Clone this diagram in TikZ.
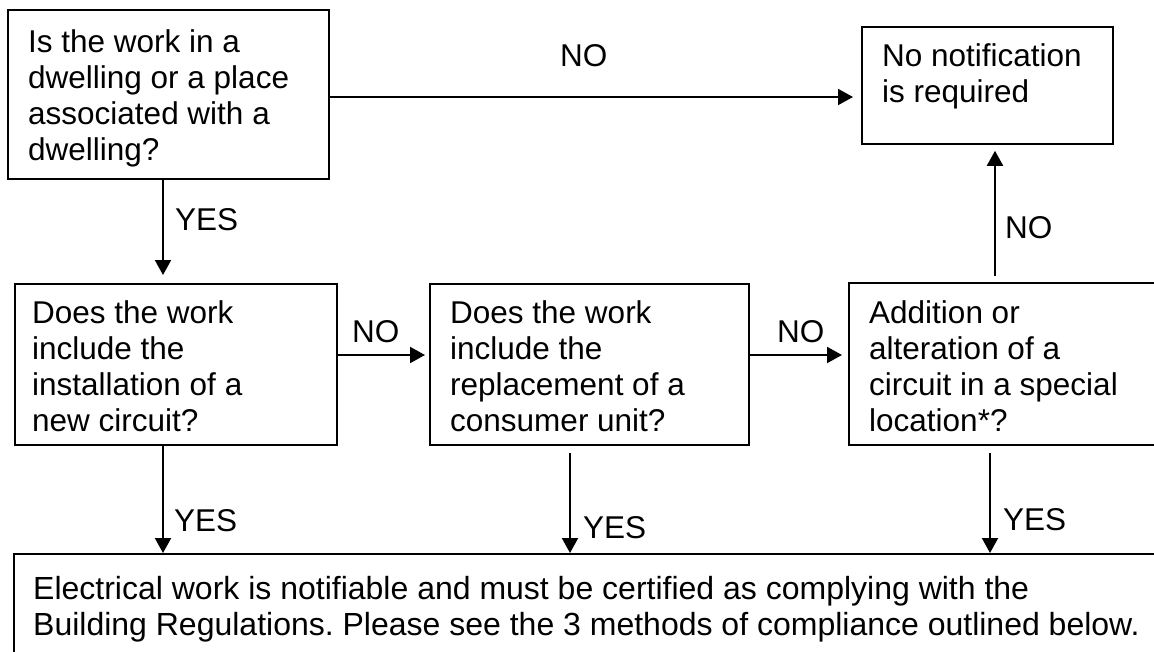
\documentclass[tikz,border=0pt]{standalone}
\usepackage{fontspec}
\setmainfont{Liberation Sans}
\usetikzlibrary{arrows.meta}
\frenchspacing
\newcommand{\tlines}[1]{\vtop{\baselineskip=36pt\halign{##\hfil\cr#1\crcr}}}
\begin{document}
\begin{tikzpicture}[x=1pt,y=-1pt,
  box/.style={draw=black, line width=1.8pt, rectangle, inner sep=0pt, anchor=north west},
  txt/.style={inner sep=0pt, anchor=base west, font=\fontsize{31.5}{36}\selectfont},
  bigtxt/.style={txt, font=\fontsize{32}{36}\selectfont},
  lbl/.style={inner sep=0pt, anchor=base west, font=\fontsize{31.5}{36}\selectfont},
  arr/.style={line width=2pt, -{Triangle[length=15pt,width=16pt]}}]
\useasboundingbox (0,0) rectangle (1154,651);
\clip (0,0) rectangle (1154,651);
\fill[white] (0,0) rectangle (1154,651);
% boxes
\node[box, minimum width=321pt, minimum height=169pt] (b1) at (7,9) {};
\node[box, minimum width=251pt, minimum height=117pt] (nn) at (861,26) {};
\node[box, minimum width=322pt, minimum height=161pt] (bA) at (14,283) {};
\node[box, minimum width=319pt, minimum height=161pt] (bB) at (429,283) {};
\node[box, minimum width=340pt, minimum height=162pt] (bC) at (848,282) {};
\node[box, minimum width=1160pt, minimum height=150pt] (bot) at (13,553) {};
% texts
\node[txt] (t1) at (28,52) {\tlines{Is the work in a\cr dwelling or a place\cr associated with a\cr dwelling?}};
\node[txt] (tn) at (882,66) {\tlines{No notification\cr is required}};
\node[txt] (tA) at (32,323) {\tlines{Does the work\cr include the\cr installation of a\cr new circuit?}};
\node[txt] (tB) at (450,323) {\tlines{Does the work\cr include the\cr replacement of a\cr consumer unit?}};
\node[txt] (tC) at (869,323) {\tlines{Addition or\cr alteration of a\cr circuit in a special\cr location*?}};
\node[bigtxt] (tb) at (33,599) {\tlines{Electrical work is notifiable and must be certified as complying with the\cr Building Regulations. Please see the 3 methods of compliance outlined below.}};
% x positions of vertical connectors
\coordinate (x1) at (163,0);
\coordinate (xA) at (163,0);
\coordinate (xB) at (570,0);
\coordinate (xC) at (990,0);
\coordinate (xU) at (995,0);
\coordinate (yT) at (0,97);
\coordinate (yM) at (0,355);
% connectors
\draw[arr, shorten >=8pt] (b1.east |- yT) -- (nn.west |- yT);
\draw[arr, shorten >=8pt] (x1 |- b1.south) -- (x1 |- bA.north);
\draw[arr, shorten >=4pt] (bA.east |- yM) -- (bB.west |- yM);
\draw[arr, shorten >=6pt] (bB.east |- yM) -- (bC.west |- yM);
\draw[arr, shorten <=6pt, shorten >=6pt] (xU |- bC.north) -- (xU |- nn.south);
\draw[arr] (xA |- bA.south) -- (xA |- bot.north);
\draw[arr, shorten <=7pt] (xB |- bB.south) -- (xB |- bot.north);
\draw[arr, shorten <=7pt] (xC |- bC.south) -- (xC |- bot.north);
% labels
\node[lbl] (l1) at (560,66) {NO};
\node[lbl] (l2) at (175,230) {YES};
\node[lbl] (l3) at (352,342) {NO};
\node[lbl] (l4) at (777,342) {NO};
\node[lbl] (l5) at (1005,238) {NO};
\node[lbl] (l6) at (174,531) {YES};
\node[lbl] (l7) at (583,538) {YES};
\node[lbl] (l8) at (1003,530) {YES};
\end{tikzpicture}
\end{document}
